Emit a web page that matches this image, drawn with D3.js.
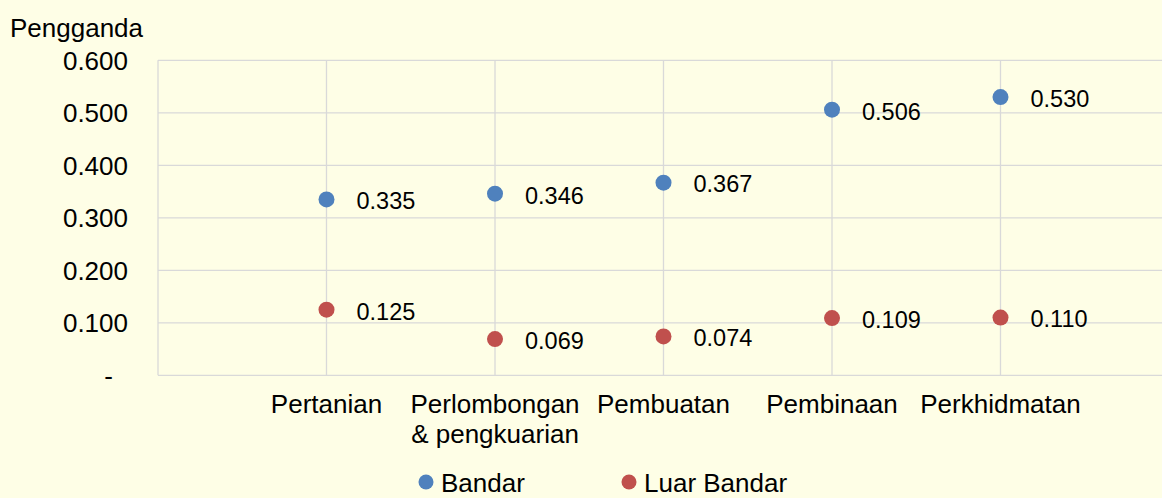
<!DOCTYPE html>
<html>
<head>
<meta charset="utf-8">
<script src="https://cdn.jsdelivr.net/npm/d3@7"></script>
<style>
  html, body { margin: 0; padding: 0; background: #FEFEE6; }
  svg { display: block; }
  text { font-family: "Liberation Sans", Arial, sans-serif; fill: #000; }
</style>
</head>
<body>
<svg id="chart" width="1162" height="498"></svg>
<script>
const categories = [["Pertanian"], ["Perlombongan", "& pengkuarian"], ["Pembuatan"], ["Pembinaan"], ["Perkhidmatan"]];
const bandar = [0.335, 0.346, 0.367, 0.506, 0.530];
const luarBandar = [0.125, 0.069, 0.074, 0.109, 0.110];
const seriesNames = ["Bandar", "Luar Bandar"];
const seriesColors = ["#4F81BD", "#C0504D"];
const yTicks = [0, 0.1, 0.2, 0.3, 0.4, 0.5, 0.6];
const yTitle = "Pengganda";

(function () {
const svg = d3.select("#chart");
const W = 1162, H = 498;
const plotLeft = 158, plotTop = 60.3, plotBottom = 375.3;

const x = d3.scaleLinear().domain([0, 6]).range([plotLeft, plotLeft + 6 * 168.5]);
const y = d3.scaleLinear().domain([0, 0.6]).range([plotBottom, plotTop]);

svg.append("rect").attr("width", W).attr("height", H).attr("fill", "#FEFEE6");

const grid = svg.append("g").attr("stroke", "#D9D9D9").attr("stroke-width", 1.3);
grid.selectAll("line.h").data(yTicks).join("line").attr("class", "h")
  .attr("x1", plotLeft).attr("x2", W)
  .attr("y1", d => y(d)).attr("y2", d => y(d));
grid.selectAll("line.v").data(d3.range(0, 6)).join("line").attr("class", "v")
  .attr("x1", d => x(d)).attr("x2", d => x(d))
  .attr("y1", plotTop).attr("y2", plotBottom);

const yAxis = d3.axisLeft(y).tickValues(yTicks)
  .tickFormat(d => d === 0 ? "-" : d3.format(".3f")(d))
  .tickSize(0).tickPadding(0);
const ya = svg.append("g").attr("transform", `translate(128,0)`).call(yAxis);
ya.select(".domain").remove();
ya.selectAll("text")
  .attr("font-size", "26px")
  .attr("font-family", "Liberation Sans, Arial, sans-serif")
  .attr("fill", "#000")
  .attr("dy", "0.35em")
  .attr("x", d => d === 0 ? -15 : 0);

svg.append("text").attr("x", 10).attr("y", 37).attr("font-size", "26px").text(yTitle);

const cat = svg.append("g");
categories.forEach((lines, i) => {
  const t = cat.append("text").attr("text-anchor", "middle").attr("font-size", "26px")
    .attr("x", x(i + 1)).attr("y", 413);
  lines.forEach((ln, j) => {
    t.append("tspan").attr("x", x(i + 1)).attr("dy", j === 0 ? 0 : 30).text(ln);
  });
});

const series = [bandar, luarBandar];
series.forEach((vals, s) => {
  const g = svg.append("g");
  g.selectAll("circle").data(vals).join("circle")
    .attr("cx", (d, i) => x(i + 1)).attr("cy", d => y(d))
    .attr("r", 8).attr("fill", seriesColors[s]);
  g.selectAll("text").data(vals).join("text")
    .attr("x", (d, i) => x(i + 1) + 30).attr("y", d => y(d))
    .attr("dy", "0.42em").attr("font-size", "23.5px")
    .text(d => d3.format(".3f")(d));
});

const legX = [426, 629];
seriesNames.forEach((n, s) => {
  svg.append("circle").attr("cx", legX[s]).attr("cy", 482).attr("r", 7.5).attr("fill", seriesColors[s]);
  svg.append("text").attr("x", legX[s] + 15).attr("y", 491.5).attr("font-size", "26px").text(n);
});
})();
</script>
</body>
</html>
